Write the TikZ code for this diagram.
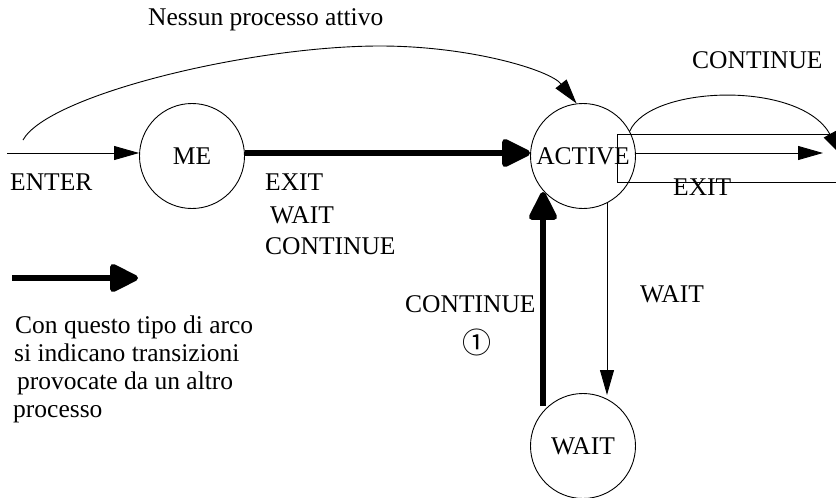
\documentclass[tikz,border=0pt]{standalone}
\usepackage{fontspec}
\setmainfont{Liberation Serif}
\newfontfamily\symfont{Noto Sans CJK JP}
\usetikzlibrary{arrows.meta,calc}
\tikzset{
  state/.style={circle,draw,line width=0.9pt,minimum size=105pt,inner sep=0pt},
  thin/.style={line width=0.9pt,-{Triangle[length=25pt,width=14pt]}},
  thickarr/.style={line width=6pt,-{Triangle[length=32pt,width=30pt,round]}},
  lbl/.style={anchor=base west,inner sep=0pt},
}
\begin{document}
\begin{tikzpicture}[x=1pt,y=-1pt,font=\fontsize{25.5}{30}\selectfont]
\clip (0,0) rectangle (836,498);
\fill[white] (0,0) rectangle (836,498);
% states
\node[state] (me) at (192,156) {ME};
\node[state] (active) at (583,156) {ACTIVE};
\node[state] (waitn) at (583,446) {WAIT};
% free ends
\coordinate (enterstart) at (7,153);
\coordinate (loopstart) at (23,140);
\coordinate (exitend) at (823,153);
\coordinate (contend) at (842,156);
\coordinate (legA) at (12,278);
\coordinate (legB) at (138,278);
% box on the right
\draw[line width=0.9pt] (617,134) rectangle (850,182);
% enter
\draw[thin] (enterstart) -- (enterstart -| me.west);
% top arc
\draw[thin] (loopstart) .. controls (48,95) and (250,46) .. (380,46)
  .. controls (470,46) and (550,70) .. (active.97);
% ME -> ACTIVE thick
\draw[thickarr] ($(me.east)+(0,-3)$) -- ($(active.west)+(0,-3)$);
% exit arrow inside box
\draw[thin] ($(active.east)+(0,-3)$) -- (exitend);
% continue loop
\draw[thin] (active.28) .. controls (650,85) and (800,80) .. (contend);
% ACTIVE -> WAIT
\draw[thin] ($(active.center)+(24,47)$) -- ($(waitn.center)+(24,-51)$);
% WAIT -> ACTIVE thick
\draw[thickarr] ($(waitn.center)+(-40,-40)$) -- ($(active.center)+(-40,36)$);
% legend arrow
\draw[thickarr] (legA) -- (legB);
% labels
\node[lbl] (tNessun) at (148,25) {Nessun processo attivo};
\node[lbl] (tCont1) at (692,68) {CONTINUE};
\node[lbl] (tEnter) at (10,190) {ENTER};
\node[lbl] (tExit1) at (265,190) {EXIT};
\node[lbl] (tWait1) at (270,223) {WAIT};
\node[lbl] (tCont2) at (265,254) {CONTINUE};
\node[lbl] (tExit2) at (673,195) {EXIT};
\node[lbl] (tWait2) at (640,302) {WAIT};
\node[lbl] (tCont3) at (405,312) {CONTINUE};
\node[inner sep=0pt] (tCirc) at (477,342) {\symfont\fontsize{29}{32}\selectfont ①};
\node[lbl] (tL1) at (15,333) {Con questo tipo di arco};
\node[lbl] (tL2) at (14,361) {si indicano transizioni};
\node[lbl] (tL3) at (17,389) {provocate da un altro};
\node[lbl] (tL4) at (13,417) {processo};
\end{tikzpicture}
\end{document}
